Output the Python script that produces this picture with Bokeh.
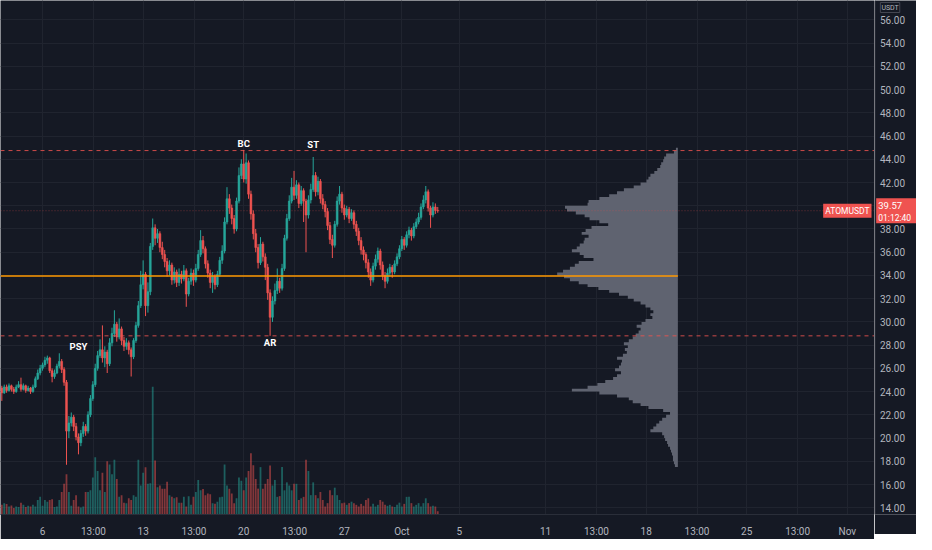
import pandas as pd
from bokeh.plotting import figure
from bokeh.layouts import row
from bokeh.models import (Range1d, FixedTicker, CustomJSTickFormatter, Grid,
                          Span, Label, ColumnDataSource)
from bokeh.core.properties import value
from bokeh.embed import file_html
from bokeh.resources import INLINE

# ---------------- data: ATOMUSDT, 4h candles ----------------
first_time = "2021-09-03 04:00"
first_open = 24.3
closes = [
    23.9, 24.4, 24.1, 24.5, 24.2, 24.0, 24.4, 24.6, 24.2, 24.5,
    24.1, 24.3, 24.0, 24.4, 25.1, 25.6, 26.0, 26.3, 26.7, 26.9,
    25.8, 25.3, 25.6, 26.2, 26.6, 25.9, 24.8, 20.6, 21.3, 21.8,
    21.0, 20.1, 19.6, 20.4, 21.0, 20.6, 22.0, 23.4, 24.6, 26.0,
    27.1, 27.6, 26.9, 27.4, 26.4, 28.2, 29.0, 29.8, 28.7, 29.4,
    28.4, 27.9, 28.2, 27.6, 27.0, 28.4, 29.7, 31.4, 33.2, 34.1,
    31.4, 32.6, 36.5, 38.1, 37.2, 37.6, 36.4, 35.8, 35.2, 34.4,
    34.9, 33.6, 34.3, 33.4, 34.1, 33.7, 34.4, 32.4, 33.5, 34.2,
    33.6, 34.6, 35.8, 37.0, 36.3, 35.0, 34.2, 33.4, 33.9, 33.2,
    34.1, 35.3, 36.1, 38.6, 40.6, 39.8, 38.9, 38.0, 40.4, 42.6,
    43.6, 42.3, 43.7, 41.0, 39.3, 37.6, 36.4, 35.1, 36.7, 35.6,
    34.7, 32.5, 30.4, 31.8, 32.7, 33.5, 32.9, 34.6, 37.2, 38.9,
    40.4, 41.6, 40.9, 41.8, 40.2, 41.3, 40.4, 39.2, 40.5, 41.4,
    42.6, 41.2, 42.1, 40.6, 40.1, 39.5, 38.3, 37.1, 36.6, 38.4,
    40.4, 41.0, 39.8, 39.2, 39.7, 38.9, 39.4, 38.4, 37.8, 37.0,
    36.2, 35.8, 35.1, 34.3, 33.6, 34.8, 35.4, 36.1, 34.9, 34.0,
    33.5, 34.2, 34.7, 34.3, 35.0, 35.6, 36.3, 37.1, 36.6, 37.5,
    37.9, 37.4, 38.2, 38.6, 39.0, 39.9, 40.5, 41.2, 39.8, 39.2,
    39.9, 39.6, 39.57,
]
highs = [
    24.5, 24.6, 24.6, 24.7, 24.6, 24.4, 24.6, 24.9, 25.2, 24.7,
    24.6, 24.5, 24.4, 24.6, 25.3, 25.9, 26.3, 26.5, 27.0, 27.1,
    27.0, 26.0, 25.9, 26.4, 27.3, 26.8, 26.1, 25.0, 21.9, 22.2,
    22.0, 21.3, 20.4, 20.7, 21.4, 21.2, 22.3, 23.7, 24.9, 26.4,
    27.5, 28.5, 29.7, 27.9, 27.6, 28.6, 29.5, 31.0, 30.0, 30.3,
    29.6, 28.7, 28.6, 28.4, 27.8, 28.6, 30.0, 31.8, 34.4, 35.3,
    34.3, 33.4, 36.8, 38.9, 38.4, 38.0, 37.8, 36.9, 36.2, 35.5,
    35.3, 35.1, 34.7, 34.5, 34.6, 34.4, 34.9, 34.6, 33.8, 34.6,
    34.5, 35.0, 36.2, 37.9, 37.4, 36.5, 35.3, 34.5, 34.3, 34.1,
    34.4, 35.6, 36.6, 39.0, 41.6, 41.0, 40.1, 39.2, 40.7, 43.3,
    44.0, 44.8, 44.5, 43.9, 41.3, 39.6, 38.0, 36.7, 37.3, 36.9,
    35.9, 35.0, 32.8, 32.2, 33.3, 34.6, 33.8, 35.0, 37.5, 39.3,
    40.9, 42.4, 43.0, 42.2, 42.0, 41.7, 41.5, 40.6, 40.9, 41.9,
    44.2, 42.9, 42.5, 42.3, 41.0, 40.4, 39.8, 38.6, 37.5, 38.7,
    40.8, 41.7, 41.2, 40.1, 40.0, 39.9, 39.7, 39.6, 38.7, 38.1,
    37.3, 36.5, 36.0, 35.4, 34.6, 35.1, 35.8, 36.4, 36.3, 35.2,
    34.3, 34.6, 35.0, 34.9, 35.3, 35.9, 36.6, 37.4, 37.3, 37.8,
    38.2, 38.1, 38.5, 38.9, 39.4, 40.2, 40.9, 41.7, 41.4, 40.0,
    40.3, 40.2, 39.9,
]
lows = [
    23.2, 23.8, 23.9, 24.0, 24.0, 23.8, 23.9, 24.3, 24.0, 24.1,
    23.9, 24.0, 23.8, 23.9, 24.3, 25.0, 25.4, 25.8, 26.1, 26.4,
    25.6, 24.8, 25.1, 25.5, 26.0, 25.6, 24.5, 17.7, 20.0, 21.0,
    20.6, 19.8, 18.6, 19.3, 20.1, 20.2, 20.4, 21.8, 23.2, 24.4,
    25.8, 26.9, 26.5, 26.1, 25.6, 26.2, 27.9, 28.7, 28.3, 28.5,
    28.0, 27.5, 27.6, 27.2, 25.3, 26.8, 28.2, 29.5, 31.2, 32.8,
    30.5, 30.8, 32.3, 36.2, 36.6, 36.8, 36.0, 35.4, 34.7, 33.9,
    34.0, 33.2, 33.3, 33.0, 33.1, 33.3, 33.5, 31.3, 32.2, 33.2,
    33.1, 33.4, 34.4, 35.6, 35.9, 34.6, 33.8, 32.9, 32.5, 32.8,
    33.0, 33.9, 35.0, 35.9, 38.4, 39.3, 38.4, 37.6, 37.8, 40.2,
    42.3, 42.0, 41.9, 40.6, 38.8, 37.1, 36.0, 34.6, 34.9, 35.2,
    33.6, 31.9, 28.8, 30.0, 31.5, 32.4, 32.5, 32.7, 34.4, 37.0,
    38.7, 40.2, 40.5, 40.6, 39.8, 40.0, 38.6, 36.0, 38.9, 40.2,
    41.2, 40.8, 40.9, 40.2, 39.7, 39.0, 37.9, 36.7, 35.5, 36.4,
    38.2, 40.1, 39.4, 38.8, 39.0, 38.5, 38.7, 38.0, 37.4, 36.6,
    35.8, 35.3, 34.6, 33.8, 33.1, 33.4, 34.5, 35.1, 34.5, 33.6,
    32.9, 33.3, 33.9, 33.8, 34.1, 34.8, 35.4, 36.1, 36.2, 36.4,
    37.2, 37.0, 37.2, 38.0, 38.4, 38.8, 39.7, 40.2, 39.5, 38.1,
    39.0, 39.3, 39.4,
]
volumes = [  # thousands ATOM
    400, 470, 430, 330, 370, 270, 330, 310, 490, 400,
    310, 360, 330, 400, 330, 600, 730, 360, 600, 530,
    600, 630, 310, 330, 600, 930, 1270, 1670, 930, 360,
    600, 800, 330, 290, 330, 930, 930, 1000, 1530, 2370,
    1800, 1000, 1730, 930, 2200, 2070, 1670, 2270, 1470, 730,
    800, 490, 470, 670, 600, 800, 730, 2270, 1200, 1730,
    1960, 1270, 1290, 5290, 2230, 1130, 1200, 1070, 1070, 1360,
    800, 730, 670, 710, 490, 490, 730, 330, 760, 400,
    730, 930, 1430, 1000, 1050, 800, 870, 840, 470, 440,
    530, 710, 730, 2070, 1200, 1070, 870, 470, 670, 1530,
    1400, 1000, 1530, 1800, 2530, 2040, 1470, 1070, 1960, 1070,
    1270, 1470, 2030, 1200, 1430, 730, 760, 1970, 1000, 1330,
    1200, 1000, 1270, 1270, 600, 670, 730, 2270, 1800, 800,
    1330, 800, 670, 930, 600, 330, 470, 1000, 800, 1110,
    800, 600, 470, 490, 400, 470, 530, 470, 400, 330,
    440, 360, 600, 670, 330, 440, 330, 400, 600, 530,
    400, 360, 400, 330, 310, 400, 490, 330, 440, 730,
    730, 470, 330, 400, 470, 330, 470, 670, 470, 330,
    360, 330, 130,
]

# visible-range volume profile, 0.25 USDT rows starting at 17.50
profile_start = 17.5
profile_row = 0.25
profile_volume = [
    3, 4, 5, 5, 6, 7, 8, 10, 11, 13,
    14, 16, 28, 25, 22, 19, 16, 12, 8, 15,
    30, 38, 46, 50, 62, 80, 108, 92, 82, 74,
    66, 62, 58, 64, 60, 58, 57, 62, 56, 52,
    54, 51, 55, 50, 46, 43, 40, 38, 42, 37,
    33, 26, 28, 25, 28, 33, 38, 45, 51, 60,
    70, 81, 92, 101, 110, 116, 123, 117, 110, 105,
    101, 86, 96, 100, 108, 103, 100, 96, 95, 91,
    98, 94, 88, 71, 80, 90, 95, 104, 113, 115,
    92, 91, 80, 70, 62, 55, 45, 38, 32, 30,
    28, 24, 21, 18, 17, 15, 14, 12, 4, 2,
]

range_levels = [44.75, 28.8]
poc_level = 33.95
last_price = 39.57
countdown = "01:12:40"
symbol = "ATOMUSDT"
currency = "USDT"

ann_text = ["PSY", "BC", "AR", "ST"]
ann_bar = [32, 101, 112, 130]
ann_price = [27.9, 45.4, 28.25, 45.3]

y_ticks = list(range(14, 57, 2))
x_tick_times = ["2021-09-06", "2021-09-09 13:00", "2021-09-13", "2021-09-16 13:00",
                "2021-09-20", "2021-09-23 13:00", "2021-09-27", "2021-10-01",
                "2021-10-05", "2021-10-11", "2021-10-14 13:00", "2021-10-18",
                "2021-10-21 13:00", "2021-10-25", "2021-10-28 13:00", "2021-11-01"]
x_tick_labels = ["6", "13:00", "13", "13:00", "20", "13:00", "27", "Oct",
                 "5", "11", "13:00", "18", "13:00", "25", "13:00", "Nov"]

# ---------------- styling constants ----------------
BG = "#151924"
GRID = "#20242f"
SEP = "#2a2e39"
UP = "#26a69a"
DOWN = "#ef5350"
TXT = "#b2b5be"
PROFILE = "#5f6370"
ORIGIN = pd.Timestamp("2021-09-06")
DAY = pd.Timedelta(days=1)
X_START, X_END = -2.925, 57.89
Y_BOTTOM, Y_TOP = 13.42, 57.67
BODY_W = 0.125
PROFILE_RIGHT = (pd.Timestamp("2021-10-20 05:00") - ORIGIN) / DAY
PROFILE_MAX_W = 8.4  # days
VOL_FACTOR = 4.02
MAIN_W, SCALE_W, FRAME_H, AXIS_H = 874, 42, 514, 20

# ---------------- derived ----------------
times = pd.date_range(first_time, periods=len(closes), freq="4h")
t = [(ts - ORIGIN) / DAY for ts in times]
opens = [first_open] + closes[:-1]
colors = [UP if c >= o else DOWN for o, c in zip(opens, closes)]
tops = [max(o, c) for o, c in zip(opens, closes)]
bottoms = [min(o, c) for o, c in zip(opens, closes)]
src = ColumnDataSource(dict(t=t, o=opens, h=highs, l=lows, c=closes, top=tops,
                            bottom=bottoms, color=colors, vol=volumes))

# volume profile outline as one stepped polygon (no seams between rows)
pscale = PROFILE_MAX_W / max(profile_volume)
prof_x = [PROFILE_RIGHT]
prof_y = [profile_start]
for k, v in enumerate(profile_volume):
    lo = profile_start + profile_row * k
    prof_x += [PROFILE_RIGHT - v * pscale, PROFILE_RIGHT - v * pscale]
    prof_y += [lo, lo + profile_row]
prof_x.append(PROFILE_RIGHT)
prof_y.append(profile_start + profile_row * len(profile_volume))

x_ticks = [(pd.Timestamp(s) - ORIGIN) / DAY for s in x_tick_times]
y_range = Range1d(Y_BOTTOM, Y_TOP)

# ---------------- main pane ----------------
p = figure(frame_width=MAIN_W, frame_height=FRAME_H, output_backend="svg",
           toolbar_location=None, x_range=Range1d(X_START, X_END), y_range=y_range,
           y_axis_location=None, min_border_left=0, min_border_top=0,
           min_border_right=0, min_border_bottom=AXIS_H,
           background_fill_color=BG, border_fill_color=BG, outline_line_color=None)
p.extra_y_ranges = {"vol": Range1d(0, max(volumes) * VOL_FACTOR)}

p.xaxis.ticker = FixedTicker(ticks=x_ticks)
p.xaxis.formatter = CustomJSTickFormatter(
    args=dict(tpos=x_ticks, ttxt=x_tick_labels),
    code="let best=-1,d=1e9;for(let i=0;i<tpos.length;i++){const e=Math.abs(tpos[i]-tick);if(e<d){d=e;best=i;}}return d<1e-3?ttxt[best]:'';")
ax = p.xaxis[0]
ax.major_tick_line_color = None
ax.minor_tick_line_color = None
ax.axis_line_color = SEP
ax.major_label_text_color = TXT
ax.major_label_text_font = "Roboto"
ax.major_label_text_font_size = "10px"
ax.major_label_standoff = 5
p.xgrid.grid_line_color = GRID
p.add_layout(Grid(dimension=1, ticker=FixedTicker(ticks=y_ticks), grid_line_color=GRID))

# volume
p.vbar(x="t", width=BODY_W, top="vol", bottom=0, source=src, y_range_name="vol",
       fill_color="color", line_color=None, fill_alpha=0.5)

# volume profile
p.patch(x=prof_x, y=prof_y, fill_color=PROFILE, line_color=None)

# candles
p.segment(x0="t", y0="l", x1="t", y1="h", source=src, line_color="color", line_width=1)
p.vbar(x="t", width=BODY_W, top="top", bottom="bottom", source=src,
       fill_color="color", line_color="color", line_width=0.6)

# levels
for lvl in range_levels:
    p.add_layout(Span(location=lvl, dimension="width", line_color=DOWN, line_alpha=0.85,
                      line_width=1, line_dash="4 4"))
p.add_layout(Span(location=last_price, dimension="width", line_color=DOWN, line_alpha=0.4,
                  line_width=1, line_dash="1 2"))
p.segment(x0=[X_START], x1=[PROFILE_RIGHT], y0=[poc_level], y1=[poc_level],
          line_color="#ff9800", line_width=1.6)

# wyckoff annotations
ann_src = ColumnDataSource(dict(x=[t[i] for i in ann_bar], y=ann_price, text=ann_text))
p.text(x="x", y="y", text="text", source=ann_src, text_color="white",
       text_font=value("Roboto"), text_font_style="bold", text_font_size=value("9.5px"),
       text_align="center", text_baseline="middle")

p.add_layout(Label(x=X_END, y=last_price, x_offset=-3, text=symbol, text_align="right",
                   text_baseline="middle", text_color="white", text_font="Roboto",
                   text_font_size="8.5px", background_fill_color=DOWN, padding=2))

# ---------------- price scale pane ----------------
pa = figure(frame_width=SCALE_W, frame_height=FRAME_H, output_backend="svg",
            toolbar_location=None, x_range=Range1d(0, 1), y_range=y_range,
            x_axis_location=None, y_axis_location=None, min_border_left=0,
            min_border_top=0, min_border_right=0, min_border_bottom=AXIS_H,
            background_fill_color=BG, border_fill_color=BG, outline_line_color=None)
pa.xgrid.visible = False
pa.ygrid.visible = False
pa.add_layout(Span(location=0.015, dimension="height", line_color=SEP, line_width=1))

scale_ticks = [v for v in y_ticks if abs(v - last_price) > 0.8]
pa.text(x=[0.13] * len(scale_ticks), y=scale_ticks, text=[f"{v:.2f}" for v in scale_ticks],
        text_color=TXT, text_font=value("Roboto"), text_font_size=value("10px"),
        text_align="left", text_baseline="middle")

pa.rect(x=[0.52], y=[last_price], width=[0.96], height=[25], height_units="screen",
        fill_color=DOWN, line_color=None)
pa.add_layout(Label(x=0.09, y=last_price, y_offset=5, text=f"{last_price:.2f}",
                    text_align="left", text_baseline="middle", text_color="white",
                    text_font="Roboto", text_font_size="9.5px"))
pa.add_layout(Label(x=0.09, y=last_price, y_offset=-7, text=countdown,
                    text_align="left", text_baseline="middle", text_color="white",
                    text_font="Roboto", text_font_size="8.5px"))
pa.add_layout(Label(x=0.14, y=Y_TOP, y_offset=-2, text=currency,
                    text_align="left", text_baseline="top", text_color=TXT,
                    text_font="Roboto", text_font_size="7px",
                    border_line_color="#434651", padding=1))

layout = row(p, pa, spacing=0)
open("out.html", "w").write(file_html(layout, INLINE))
